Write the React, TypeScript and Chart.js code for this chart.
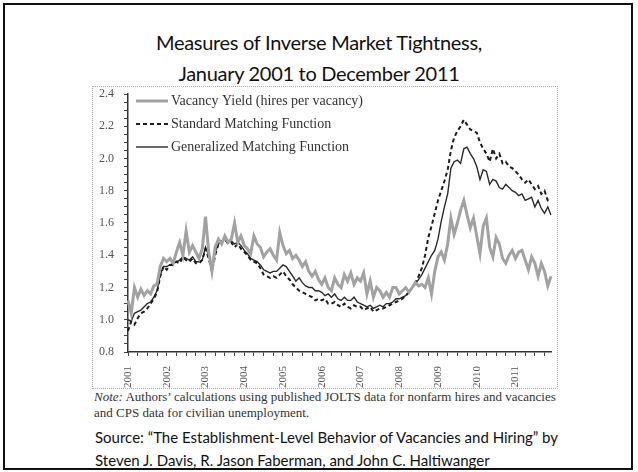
import React, { useEffect, useRef } from "react";
import { Chart, registerables } from "chart.js";

Chart.register(...registerables);

const YEARS = [2001, 2002, 2003, 2004, 2005, 2006, 2007, 2008, 2009, 2010, 2011];
const MONTH_NAMES = ["Jan", "Feb", "Mar", "Apr", "May", "Jun", "Jul", "Aug", "Sep", "Oct", "Nov", "Dec"];

const SERIES_NAMES = [
  "Vacancy Yield (hires per vacancy)",
  "Standard Matching Function",
  "Generalized Matching Function",
];

// Monthly values, Jan 2001 .. Dec 2011
const VACANCY_YIELD = [
  1.12, 1.04, 1.2, 1.14, 1.19, 1.15, 1.18, 1.16, 1.21, 1.22, 1.33, 1.38,
  1.36, 1.38, 1.35, 1.42, 1.48, 1.4, 1.55, 1.42, 1.46, 1.42, 1.38, 1.44,
  1.64, 1.42, 1.3, 1.45, 1.5, 1.47, 1.52, 1.48, 1.5, 1.6, 1.48, 1.52,
  1.46, 1.44, 1.41, 1.52, 1.47, 1.45, 1.39, 1.42, 1.44, 1.4, 1.37, 1.54,
  1.46, 1.41, 1.43, 1.38, 1.4, 1.37, 1.33, 1.36, 1.3, 1.27, 1.3, 1.25,
  1.22, 1.26, 1.2, 1.18, 1.26, 1.22, 1.2, 1.28, 1.24, 1.29, 1.22, 1.26,
  1.24, 1.29, 1.16, 1.24, 1.14, 1.2, 1.18, 1.14, 1.17, 1.14, 1.2, 1.2,
  1.16, 1.18, 1.2, 1.17, 1.2, 1.23, 1.21, 1.22, 1.2, 1.26, 1.16, 1.3,
  1.39, 1.42, 1.37, 1.47, 1.63, 1.53, 1.6, 1.68, 1.74, 1.65, 1.57, 1.63,
  1.52, 1.41, 1.58, 1.63, 1.45, 1.39, 1.51, 1.47, 1.38, 1.35, 1.4, 1.43,
  1.38, 1.42, 1.43, 1.37, 1.31, 1.39, 1.35, 1.27, 1.35, 1.3, 1.21, 1.27,
];

const STANDARD_MF = [
  0.93, 0.99, 0.97, 1.01, 1.04, 1.05, 1.07, 1.1, 1.13, 1.17, 1.27, 1.33,
  1.31, 1.34, 1.34, 1.36, 1.35, 1.39, 1.37, 1.36, 1.38, 1.35, 1.35, 1.37,
  1.44, 1.38, 1.3, 1.4, 1.47, 1.48, 1.5, 1.47, 1.48, 1.45, 1.47, 1.44,
  1.42, 1.4, 1.37, 1.36, 1.35, 1.32, 1.28, 1.27, 1.26, 1.27, 1.26, 1.28,
  1.3, 1.27, 1.25, 1.22, 1.2, 1.18, 1.17, 1.16, 1.15, 1.14, 1.12, 1.13,
  1.12, 1.13, 1.1, 1.1, 1.11, 1.09, 1.08, 1.1, 1.08, 1.07, 1.09, 1.08,
  1.08, 1.06, 1.07, 1.08, 1.05, 1.06, 1.07, 1.07, 1.08, 1.09, 1.1, 1.11,
  1.12, 1.13, 1.15, 1.17, 1.2, 1.23, 1.27, 1.32, 1.4, 1.51, 1.58, 1.66,
  1.74, 1.8, 1.86, 1.93, 2.05, 2.13, 2.17, 2.2, 2.24, 2.21, 2.18, 2.17,
  2.16, 2.1, 2.06, 2.03, 1.98, 2.06, 2.0, 2.03, 1.97, 1.98, 1.95, 1.94,
  1.92, 1.9, 1.87, 1.85, 1.87, 1.84, 1.81, 1.83, 1.78, 1.8, 1.74, 1.73,
];

const GENERALIZED_MF = [
  1.0, 0.99, 1.04, 1.05, 1.06, 1.08, 1.1, 1.11, 1.14, 1.18, 1.28, 1.33,
  1.33, 1.34, 1.35, 1.36, 1.37, 1.39, 1.38, 1.37, 1.39, 1.36, 1.36, 1.37,
  1.45, 1.4, 1.32, 1.42, 1.47, 1.49, 1.5, 1.48, 1.49, 1.47, 1.48, 1.46,
  1.43, 1.41, 1.38, 1.37, 1.36, 1.34, 1.31, 1.3, 1.29, 1.3, 1.3, 1.32,
  1.34, 1.33, 1.3, 1.27, 1.24, 1.26, 1.23, 1.21, 1.2, 1.2, 1.18, 1.18,
  1.17, 1.15, 1.16, 1.14, 1.16, 1.13, 1.12, 1.14, 1.12, 1.12, 1.14, 1.11,
  1.1, 1.09, 1.08, 1.09, 1.07, 1.08, 1.09, 1.08, 1.1, 1.1, 1.11, 1.13,
  1.13, 1.14, 1.15, 1.17, 1.2, 1.22, 1.25, 1.28, 1.32, 1.36, 1.4, 1.43,
  1.5, 1.61, 1.7, 1.78, 1.94, 1.98, 1.99, 1.97, 2.06, 2.07, 2.03, 2.0,
  1.95, 1.87, 1.93, 1.92, 1.84, 1.87, 1.86, 1.82, 1.81, 1.84, 1.82, 1.8,
  1.79, 1.77, 1.78, 1.74, 1.75, 1.76, 1.7, 1.74, 1.69, 1.66, 1.7, 1.65,
];

const Y_MIN = 0.8;
const Y_MAX = 2.4;

const MONTH_LABELS: string[] = [];
YEARS.forEach((y) => MONTH_NAMES.forEach((m) => MONTH_LABELS.push(`${m} ${y}`)));

const legendPlace = {
  id: "legendPlace",
  afterLayout(chart: any) {
    const lg = chart.legend;
    if (lg) {
      lg.top = -2;
      lg.left += 3;
    }
  },
};

function makeSample(color: string, width: number, dash: number[]) {
  const c = document.createElement("canvas");
  c.width = 32;
  c.height = 6;
  const ctx = c.getContext("2d");
  if (ctx) {
    ctx.strokeStyle = color;
    ctx.lineWidth = width;
    ctx.setLineDash(dash);
    ctx.beginPath();
    ctx.moveTo(0, 3);
    ctx.lineTo(32, 3);
    ctx.stroke();
  }
  return c;
}

function MarketChart() {
  const ref = useRef<HTMLCanvasElement | null>(null);
  useEffect(() => {
    if (!ref.current) return;
    const serif = "'Liberation Serif', 'Times New Roman', serif";
    const styles = [
      { color: "#a2a2a2", width: 3, dash: [] as number[] },
      { color: "#1c1c1c", width: 2, dash: [4, 3] },
      { color: "#2a2a2a", width: 1.4, dash: [] as number[] },
    ];
    const seriesData = [VACANCY_YIELD, STANDARD_MF, GENERALIZED_MF];
    const chart = new Chart(ref.current, {
      type: "line",
      data: {
        labels: MONTH_LABELS,
        datasets: seriesData.map((d, i) => ({
          label: SERIES_NAMES[i],
          data: d,
          borderColor: styles[i].color,
          borderWidth: styles[i].width,
          borderDash: styles[i].dash,
          pointRadius: 0,
          pointStyle: makeSample(styles[i].color, styles[i].width, styles[i].dash) as any,
          tension: 0,
        })),
      },
      options: {
        animation: false,
        responsive: false,
        maintainAspectRatio: false,
        layout: { padding: { top: 0, right: 6, left: 0, bottom: 0 } },
        plugins: {
          title: { display: false },
          tooltip: { enabled: false },
          legend: {
            position: "chartArea" as any,
            align: "start",
            labels: {
              usePointStyle: true,
              pointStyleWidth: 24,
              padding: 9,
              color: "#333",
              font: { family: serif, size: 14 },
            },
          },
        },
        scales: {
          x: {
            type: "category",
            offset: false,
            grid: {
              display: true,
              drawOnChartArea: false,
              drawTicks: true,
              tickLength: 4,
              color: (ctx: any) => (ctx.index % 3 === 0 ? "#444" : "rgba(0,0,0,0)"),
            },
            border: { display: true, color: "#333", width: 1.5 },
            ticks: {
              autoSkip: false,
              minRotation: 90,
              maxRotation: 90,
              padding: 10,
              color: "#555",
              font: { family: serif, size: 11 },
              callback: (_v: any, i: number) => (i % 12 === 0 ? String(YEARS[i / 12]) : ""),
            },
            afterFit: (scale: any) => {
              scale.height = 36;
              scale.paddingLeft = 0;
              scale.paddingRight = 0;
            },
          },
          y: {
            type: "linear",
            min: Y_MIN,
            max: Y_MAX,
            grid: {
              display: true,
              drawOnChartArea: false,
              drawTicks: true,
              tickLength: 4,
              color: "#444",
            },
            border: { display: true, color: "#333", width: 1.5 },
            ticks: {
              stepSize: 0.05,
              autoSkip: false,
              padding: 10,
              color: "#555",
              font: { family: serif, size: 12 },
              callback: (v: any) => {
                const n = Math.round(Number(v) * 100);
                return n % 20 === 0 ? (n / 100).toFixed(1) : "";
              },
            },
            afterFit: (scale: any) => {
              scale.width = 35;
              scale.paddingTop = 7;
              scale.paddingBottom = 0;
            },
          },
        },
      },
      plugins: [legendPlace],
    });
    return () => chart.destroy();
  }, []);
  return <canvas ref={ref} width={464} height={301} style={{ width: 464, height: 301, display: "block" }} />;
}

export default function App() {
  const sans = "Lato, 'Open Sans', sans-serif";
  const serif = "'Liberation Serif', 'Times New Roman', serif";
  return (
    <div style={{ position: "absolute", left: 0, top: 0, width: 638, height: 472, background: "#fff", overflow: "hidden" }}>
      <div
        style={{
          position: "absolute",
          left: 3,
          top: 3,
          width: 630,
          height: 467,
          border: "2px solid #111",
          boxSizing: "border-box",
        }}
      />
      <div
        style={{
          position: "absolute",
          left: 0,
          top: 27,
          width: 638,
          textAlign: "center",
          fontFamily: sans,
          fontSize: 20,
          letterSpacing: "-0.3px",
          lineHeight: "31px",
          color: "#111",
        }}
      >
        <div>Measures of Inverse Market Tightness,</div>
        <div>January 2001 to December 2011</div>
      </div>
      <div
        style={{
          position: "absolute",
          left: 93,
          top: 87,
          width: 464,
          height: 301,
          outline: "1px dotted #aaa",
        }}
      >
        <MarketChart />
      </div>
      <div
        style={{
          position: "absolute",
          left: 94,
          top: 389,
          width: 500,
          fontFamily: serif,
          fontSize: 13,
          lineHeight: "16px",
          color: "#333",
        }}
      >
        <div>
          <i>Note:</i> Authors’ calculations using published JOLTS data for nonfarm hires and vacancies
        </div>
        <div>and CPS data for civilian unemployment.</div>
      </div>
      <div
        style={{
          position: "absolute",
          left: 95,
          top: 426,
          width: 540,
          fontFamily: sans,
          fontSize: 15,
          lineHeight: "23px",
          color: "#111",
        }}
      >
        <div>Source: “The Establishment-Level Behavior of Vacancies and Hiring” by</div>
        <div>Steven J. Davis, R. Jason Faberman, and John C. Haltiwanger</div>
      </div>
    </div>
  );
}
